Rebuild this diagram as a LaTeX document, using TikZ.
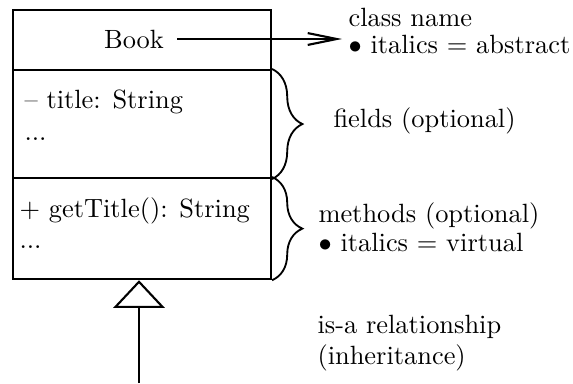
\documentclass[tikz,border=0pt]{standalone}
\usetikzlibrary{arrows.meta,decorations.pathreplacing}
\begin{document}
\begin{tikzpicture}[x=0.3788pt,y=-0.3788pt,
  part/.style={draw,line width=0.8pt,anchor=north west,inner sep=0pt,minimum width=97.7pt},
  lbl/.style={anchor=base west,inner sep=0pt},
  curly/.style={decorate,decoration={brace,amplitude=11.5pt},line width=0.7pt},
  line/.style={line width=0.8pt}]
\useasboundingbox (0,0) rectangle (573,383);

% class box: name, fields, methods
\node[part,minimum height=22.7pt] (cname)   at (12,9)   {};
\node[part,minimum height=40.9pt] (fields)  at (12,69)  {};
\node[part,minimum height=38.3pt] (methods) at (12,177) {};

\node[lbl,anchor=base] (book) at (134,48) {Book};
\node[lbl] (ftitle) at (24,108) {-- title: String};
\node[lbl] (fdots)  at (24,140) {...};
\node[lbl] (mtitle) at (19,217) {+ getTitle(): String};
\node[lbl] (mdots)  at (19,248) {...};

% annotations
\node[lbl] (cn)  at (348,26)  {class name};
\node[lbl] (cn2) at (348,53)  {$\bullet$ italics $=$ abstract};
\node[lbl] (fo)  at (333,127) {fields (optional)};
\node[lbl] (mo)  at (318,222) {methods (optional)};
\node[lbl] (mo2) at (318,251) {$\bullet$ italics $=$ virtual};
\node[lbl] (isa) at (317,333) {is-a relationship};
\node[lbl] (inh) at (317,364) {(inheritance)};

% arrow from the class name to its note
\coordinate (cnarrow) at (342,39);
\draw[line,-{Straight Barb[length=11pt,width=4.5pt]}] (book.east |- 0,39) ++(13,0) -- (cnarrow);

% braces
\draw[curly] (fields.north east) -- (fields.south east);
\draw[curly] (methods.north east) -- (methods.south east);

% inheritance arrow
\coordinate (sub) at (139,383);
\draw[line,-{Triangle[open,length=10.5pt,width=19.5pt]}] (sub) -- (methods.south -| sub);
\end{tikzpicture}
\end{document}
